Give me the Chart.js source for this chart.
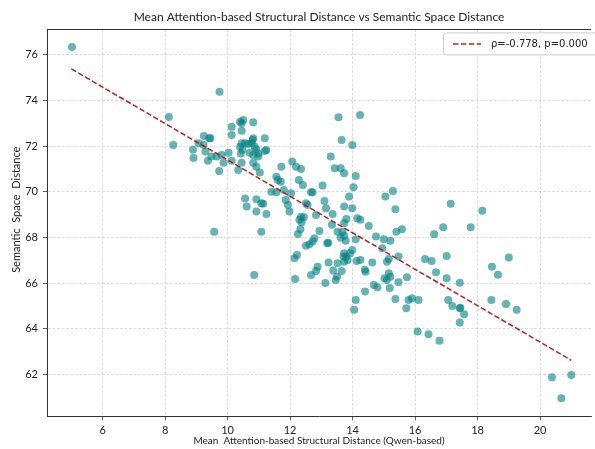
<!DOCTYPE html>
<html>
<head>
<meta charset="utf-8">
<script src="https://cdn.jsdelivr.net/npm/chart.js@4.4.1/dist/chart.umd.min.js"></script>
<style>
  html, body { margin: 0; padding: 0; background: #fff; }
  canvas { display: block; }
</style>
</head>
<body>
<canvas id="scatterChart" width="595" height="449"></canvas>
<script>
// mean attention-based structural distance (x) per sample
const structDist = [
  5.02, 9.74, 8.12, 8.26, 8.89, 8.91, 9.24, 9.41, 9.45, 10.13, 10.13, 10.40, 10.45, 10.50, 10.82,
  10.45, 10.82, 10.80, 11.19, 10.45, 10.56, 10.66, 10.77, 10.40, 10.48, 10.87, 10.92, 10.42, 10.71,
  10.82, 10.98, 10.98, 11.24, 11.19, 9.23, 9.29, 9.07, 9.37, 9.48, 9.65, 9.81, 10.03, 9.87, 9.73,
  10.13, 10.34, 10.45, 10.82, 10.92, 11.03, 11.72, 12.07, 12.19, 12.35, 11.56, 11.61, 11.70, 11.40,
  11.56, 11.80, 11.86, 11.93, 12.28, 12.41, 12.67, 12.72, 13.04, 13.10, 13.15, 13.30, 13.43, 13.62,
  13.73, 13.55, 13.65, 12.51, 12.56, 10.56, 10.92, 11.08, 10.61, 13.73, 10.92, 11.24, 11.14, 11.98,
  9.57, 11.08, 10.85, 12.16, 12.35, 12.44, 12.30, 12.37, 12.83, 12.33, 12.25, 13.36, 12.94, 12.78,
  12.72, 12.51, 12.62, 13.19, 13.22, 13.34, 13.52, 13.68, 13.73, 12.22, 12.14, 13.23, 13.52, 12.88,
  12.83, 12.67, 13.38, 13.50, 13.46, 13.65, 13.13, 13.73, 13.71, 13.73, 14.24, 13.99, 14.10, 14.03,
  13.89, 13.99, 15.05, 15.29, 15.37, 12.03, 13.80, 13.73, 14.15, 14.25, 14.52, 13.62, 13.78, 14.10,
  14.75, 15.00, 15.21, 15.40, 15.58, 14.95, 13.99, 13.92, 13.80, 13.84, 15.16, 15.10, 15.47, 14.13,
  14.25, 14.63, 14.39, 14.42, 15.02, 15.10, 15.21, 15.16, 15.47, 15.74, 14.68, 14.79, 15.19, 14.40,
  14.10, 14.05, 15.37, 15.79, 15.90, 15.72, 17.14, 18.15, 16.90, 16.61, 17.78, 16.32, 16.53, 17.01,
  16.67, 17.01, 17.43, 18.46, 18.65, 19.00, 16.11, 17.06, 18.44, 17.19, 17.43, 17.45, 17.57, 17.43,
  18.91, 19.25, 16.08, 16.43, 16.78, 20.38, 21.00, 20.68
];
// semantic space distance (y) per sample
const semDist = [
  76.34, 74.38, 73.27, 72.05, 71.84, 71.48, 72.44, 72.34, 72.34, 72.85, 72.49, 73.07, 73.00, 73.14, 73.04,
  72.67, 72.34, 72.27, 72.34, 72.12, 72.12, 72.09, 72.12, 71.97, 71.83, 71.97, 71.86, 71.68, 71.71,
  71.61, 71.68, 71.54, 71.83, 71.79, 72.05, 71.76, 72.12, 71.36, 71.54, 71.54, 71.61, 71.71, 71.27, 70.91,
  71.36, 70.95, 71.27, 71.27, 71.10, 70.84, 71.10, 71.32, 71.10, 71.00, 70.66, 70.52, 70.44, 70.00,
  69.98, 70.08, 69.64, 69.42, 70.52, 70.30, 69.98, 69.98, 70.27, 69.60, 69.28, 71.54, 71.03, 71.03,
  70.81, 73.26, 72.27, 69.50, 69.42, 69.71, 69.67, 69.50, 69.35, 69.35, 69.13, 69.03, 69.47, 69.13,
  68.25, 68.25, 66.36, 66.18, 68.91, 68.88, 68.77, 68.67, 68.98, 68.36, 68.15, 69.03, 68.28, 67.96,
  67.82, 67.64, 67.70, 67.75, 67.77, 68.55, 68.25, 68.25, 68.07, 67.23, 67.09, 66.90, 66.87, 66.72,
  66.53, 66.36, 66.55, 66.28, 66.14, 66.53, 66.00, 67.31, 67.16, 66.94, 73.36, 72.05, 70.69, 70.20,
  69.79, 69.28, 69.79, 70.03, 69.23, 69.93, 68.81, 68.62, 68.84, 68.77, 68.50, 67.99, 67.86, 67.92,
  68.04, 67.92, 67.86, 68.25, 68.36, 67.53, 67.45, 67.31, 67.16, 67.01, 67.05, 66.94, 67.16, 66.97,
  67.01, 66.90, 66.58, 66.50, 66.21, 66.14, 66.28, 66.43, 66.04, 66.26, 65.92, 65.82, 65.78, 65.63,
  65.26, 64.83, 65.30, 65.26, 65.34, 64.90, 69.47, 69.17, 68.45, 68.14, 68.45, 67.06, 66.97, 67.19,
  66.48, 66.21, 66.02, 66.72, 66.37, 67.12, 65.26, 65.26, 65.26, 65.00, 64.90, 64.92, 64.64, 64.27,
  65.08, 64.83, 63.88, 63.76, 63.47, 61.88, 61.98, 60.96
];

// fitted trend line end points
const trendX = [5.0, 21.0];
const trendY = [75.38, 62.62];
const trendLabel = 'ρ=-0.778, p=0.000';

const xTicks = [6, 8, 10, 12, 14, 16, 18, 20];
const yTicks = [62, 64, 66, 68, 70, 72, 74, 76];
const yTitle = 'Semantic  Space  Distance';

const points = structDist.map((x, i) => ({ x: x, y: semDist[i] }));
const trend = trendX.map((x, i) => ({ x: x, y: trendY[i] }));

const tickFont = { family: 'Lato', size: 11 };
const gridOpts = {
  color: 'rgba(176,176,176,0.55)',
  lineWidth: 0.8,
  tickColor: '#333',
  tickLength: 4,
  tickBorderDash: [],
};

const frameAndLegend = {
  id: 'frameAndLegend',
  afterDraw(chart) {
    const ctx = chart.ctx;
    const a = chart.chartArea;
    ctx.save();
    // top spine
    ctx.strokeStyle = '#333';
    ctx.lineWidth = 1;
    ctx.beginPath();
    ctx.moveTo(a.left, Math.round(a.top) + 0.5);
    ctx.lineTo(a.right, Math.round(a.top) + 0.5);
    ctx.stroke();

    // y axis title, sits a bit above the axis middle like the original
    ctx.save();
    ctx.translate(16, (a.top + a.bottom) / 2 - 13);
    ctx.rotate(-Math.PI / 2);
    ctx.fillStyle = '#222';
    ctx.font = '11px Lato';
    ctx.textAlign = 'center';
    ctx.textBaseline = 'middle';
    ctx.fillText(yTitle, 0, 0);
    ctx.restore();

    // legend box
    const x = a.right - 148, y = a.top + 3.5, w = 160, h = 22;
    ctx.fillStyle = 'rgba(255,255,255,0.85)';
    ctx.strokeStyle = '#cccccc';
    ctx.beginPath();
    ctx.roundRect(x + 0.5, y, w, h, 3);
    ctx.fill();
    ctx.stroke();

    ctx.strokeStyle = '#b22222';
    ctx.lineWidth = 1.5;
    ctx.setLineDash([5.5, 2.4]);
    ctx.beginPath();
    ctx.moveTo(x + 10, y + h / 2);
    ctx.lineTo(x + 38, y + h / 2);
    ctx.stroke();
    ctx.setLineDash([]);

    ctx.fillStyle = '#222';
    ctx.font = '10px "DejaVu Sans"';
    ctx.textBaseline = 'middle';
    ctx.fillText(trendLabel, x + 48, y + h / 2 + 0.5);
    ctx.restore();
  }
};

new Chart(document.getElementById('scatterChart'), {
  type: 'scatter',
  data: {
    datasets: [
      {
        type: 'line',
        label: trendLabel,
        data: trend,
        borderColor: '#b22222',
        borderWidth: 1.5,
        borderDash: [5.5, 2.4],
        pointRadius: 0,
        fill: false,
      },
      {
        label: 'samples',
        data: points,
        backgroundColor: 'rgba(0,128,128,0.6)',
        borderWidth: 0,
        pointRadius: 4,
      }
    ]
  },
  options: {
    responsive: false,
    animation: false,
    devicePixelRatio: 1,
    layout: { padding: 0 },
    plugins: {
      legend: { display: false },
      tooltip: { enabled: false },
      title: {
        display: true,
        fullSize: false,
        text: 'Mean Attention-based Structural Distance vs Semantic Space Distance',
        color: '#222',
        font: { family: 'Lato', size: 12, weight: 'normal' },
        padding: { top: 10, bottom: 5 },
      }
    },
    scales: {
      x: {
        type: 'linear',
        min: 4.22,
        max: 21.63,
        afterBuildTicks: s => { s.ticks = xTicks.map(v => ({ value: v })); },
        afterFit: s => { s.height = 33; },
        ticks: { color: '#222', font: tickFont, padding: 4, maxRotation: 0 },
        grid: gridOpts,
        border: { color: '#333', width: 1, dash: [3, 1.5] },
        title: {
          display: true,
          text: 'Mean  Attention-based Structural Distance (Qwen-based)',
          color: '#222',
          font: { family: 'Lato', size: 10 },
          padding: { top: 0, bottom: 2 },
        }
      },
      y: {
        type: 'linear',
        min: 60.18,
        max: 77.11,
        afterBuildTicks: s => { s.ticks = yTicks.map(v => ({ value: v })); },
        afterFit: s => { s.width = 47; },
        ticks: { color: '#222', font: tickFont, padding: 5 },
        grid: gridOpts,
        border: { color: '#333', width: 1, dash: [3, 1.5] },
      }
    }
  },
  plugins: [frameAndLegend]
});
</script>
</body>
</html>
